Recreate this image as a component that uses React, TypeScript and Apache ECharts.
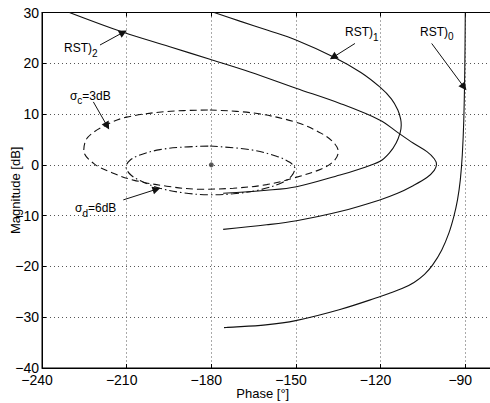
import React, { useEffect, useRef } from "react";
import * as echarts from "echarts";

// ---- axis ticks ----
const phaseTicks = [-240, -210, -180, -150, -120, -90];
const magTicks = [-40, -30, -20, -10, 0, 10, 20, 30];

// ---- curves: [phase (deg), magnitude (dB)] ----
const rst0: number[][] = [
  [-90.0, 30], [-90.18, 18.7], [-90.53, 8.8], [-91.06, 1.95], [-91.77, -3.0],
  [-92.76, -6.9], [-94.07, -10.2], [-95.85, -13.5], [-98.33, -16.75], [-101.55, -19.7],
  [-104.45, -21.55], [-108.17, -23.15], [-112.43, -24.37], [-116.33, -25.18],
  [-120.12, -25.93], [-134.4, -28.48], [-150.1, -30.67], [-160.7, -31.5],
  [-174.2, -32.0], [-175.5, -32.05],
];
const rst1: number[][] = [
  [-179.0, 30], [-169.9, 28.3], [-160.0, 26.5], [-150.0, 24.6], [-136.5, 21.2],
  [-127.0, 18.2], [-120.2, 15.3], [-116.2, 13.0], [-113.9, 10.8], [-112.9, 9.0],
  [-112.7, 7.8], [-113.1, 6.3], [-114.5, 4.3], [-116.8, 2.4], [-120.2, 0.7],
  [-127.4, -0.8], [-134.4, -2.0], [-149.8, -4.3], [-160.4, -5.0], [-175.8, -5.6],
];
const rst2: number[][] = [
  [-230.3, 30], [-211.2, 26.1], [-195.0, 23.3], [-180.5, 20.8], [-166.3, 18.3],
  [-150.0, 15.1], [-134.4, 12.1], [-120.2, 8.8], [-114.0, 6.4], [-108.5, 4.3],
  [-103.6, 2.6], [-101.0, 1.2], [-100.2, 0.1], [-101.0, -1.1], [-103.6, -2.5],
  [-108.5, -4.1], [-114.0, -5.6], [-120.3, -6.9], [-134.4, -9.2], [-149.8, -11.0],
  [-160.4, -11.8], [-175.8, -12.7],
];
const sigmaC: number[][] = [
  [-180.5, 10.8], [-165.0, 10.2], [-150.0, 8.4], [-141.0, 6.2], [-136.5, 4.3],
  [-135.0, 2.6], [-136.5, 0.8], [-141.0, -0.8], [-150.9, -2.6], [-160.4, -3.9],
  [-172.2, -4.6], [-184.0, -4.8], [-195.8, -4.2], [-207.6, -3.0], [-215.0, -1.6],
  [-221.5, 0.2], [-225.2, 2.8], [-223.8, 5.4], [-217.1, 7.9], [-210.0, 9.4],
  [-195.8, 10.5], [-180.5, 10.8],
];
const sigmaD: number[][] = [
  [-180.5, 3.7], [-166.3, 3.0], [-156.9, 1.7], [-152.2, 0.5], [-150.4, -0.7],
  [-151.6, -2.2], [-155.0, -3.5], [-162.7, -4.9], [-172.2, -5.7], [-180.5, -5.9],
  [-190.0, -5.5], [-198.2, -4.6], [-204.5, -3.3], [-208.5, -2.0], [-210.2, -0.4],
  [-208.8, 0.9], [-205.0, 2.0], [-198.2, 3.0], [-190.0, 3.5], [-180.5, 3.7],
];
const criticalPoint: number[][] = [[-180, 0]];

// ---- annotations (data coordinates) ----
const labelTexts = [
  [{ t: "RST)" }, { t: "2", sub: true }],
  [{ t: "RST)" }, { t: "1", sub: true }],
  [{ t: "RST)" }, { t: "0", sub: true }],
  [{ t: "σ" }, { t: "c", sub: true }, { t: "=3dB" }],
  [{ t: "σ" }, { t: "d", sub: true }, { t: "=6dB" }],
];
const labelAnchors: number[][] = [
  [-232.2, 23.0], [-132.6, 26.1], [-106.05, 26.2], [-230.1, 13.6], [-228.3, -8.5],
];
const arrowFrom: number[][] = [
  [-219.45, 23.6], [-129.1, 23.9], [-101.9, 23.9], [-221.8, 12.4], [-211.2, -6.9],
];
const arrowTo: number[][] = [
  [-211.2, 26.1], [-136.8, 21.2], [-90.45, 15.3], [-216.9, 7.65], [-199.4, -4.8],
];

const FONT = '"Liberation Sans", Arial, Helvetica, sans-serif';

const fmt = (v: number) => (v < 0 ? "\u2212" + Math.abs(v) : String(v));

export default function App() {
  const ref = useRef<HTMLDivElement>(null);
  useEffect(() => {
    if (!ref.current) return;
    const chart = echarts.init(ref.current, undefined, { renderer: "svg" });
    const black = "#111";
    const curve = (data: number[][], type: any, name: string) => ({
      name,
      type: "line",
      data,
      showSymbol: false,
      smooth: 0.35,
      clip: true,
      lineStyle: { color: black, width: 1.1, type },
      z: 3,
    });
    chart.setOption({
      animation: false,
      grid: {
        left: 42,
        top: 12.5,
        width: 451.5,
        height: 355.5,
        containLabel: false,
        outerBoundsMode: "none",
        show: true,
        borderColor: "#000",
        borderWidth: 1,
      },
      xAxis: [
        {
          type: "value",
          min: -240,
          max: -80,
          interval: 30,
          position: "bottom",
          axisLine: { show: true, onZero: false, lineStyle: { color: "#000", width: 1 } },
          axisTick: { show: true, inside: true, length: 4, lineStyle: { color: "#000" } },
          axisLabel: {
            show: true,
            color: "#000",
            fontSize: 14,
            fontFamily: FONT,
            margin: 5,
            padding: [0, 10, 0, 0],
            showMaxLabel: false,
            formatter: (v: number) => (phaseTicks.includes(v) ? fmt(v) : ""),
          },
          splitLine: { show: true, lineStyle: { color: "#555", type: [1, 3], width: 1 } },
          name: "Phase [°]",
          nameLocation: "middle",
          nameGap: 19,
          nameMoveOverlap: false,
          nameTextStyle: {
            color: "#000",
            fontSize: 13,
            fontFamily: FONT,
            verticalAlign: "top",
            padding: [0, 10, 0, 0],
          },
        },
        {
          type: "value",
          min: -240,
          max: -80,
          interval: 30,
          position: "top",
          axisLine: { show: true, onZero: false, lineStyle: { color: "#000", width: 1 } },
          axisTick: { show: true, inside: true, length: 4, lineStyle: { color: "#000" } },
          axisLabel: { show: false },
          splitLine: { show: false },
        },
      ],
      yAxis: {
        type: "value",
        min: -40,
        max: 30,
        interval: 10,
        axisLine: { show: true, onZero: false, lineStyle: { color: "#000", width: 1 } },
        axisTick: { show: true, inside: true, length: 4, lineStyle: { color: "#000" } },
        axisLabel: {
          color: "#000",
          fontSize: 14,
          fontFamily: FONT,
          margin: 3,
          formatter: (v: number) => (magTicks.includes(v) ? fmt(v) : ""),
        },
        splitLine: { show: true, lineStyle: { color: "#555", type: [1, 3], width: 1 } },
        name: "Magnitude [dB]",
        nameLocation: "middle",
        nameGap: 20,
        nameMoveOverlap: false,
        nameTextStyle: { color: "#000", fontSize: 13, fontFamily: FONT },
      },
      series: [
        curve(rst0, "solid", "RST0"),
        curve(rst1, "solid", "RST1"),
        curve(rst2, "solid", "RST2"),
        curve(sigmaC, [7, 4], "sigmaC"),
        curve(sigmaD, [8, 3, 1.5, 3], "sigmaD"),
        {
          name: "critical",
          type: "scatter",
          data: criticalPoint,
          symbol: "circle",
          symbolSize: 5,
          itemStyle: { color: "#333" },
          z: 4,
        },
        {
          name: "arrows",
          type: "lines",
          coordinateSystem: "cartesian2d",
          xAxisIndex: 0,
          yAxisIndex: 0,
          symbol: ["none", "triangle"],
          symbolSize: [5, 8],
          lineStyle: { color: black, width: 1, curveness: 0, opacity: 1 },
          itemStyle: { color: black },
          data: arrowFrom.map((f, i) => ({ coords: [f, arrowTo[i]] })),
          z: 5,
        },
      ],
    });

    // annotation texts
    const canvas = document.createElement("canvas");
    const ctx = canvas.getContext("2d")!;
    const graphics: any[] = [];
    labelTexts.forEach((parts, i) => {
      const p = chart.convertToPixel({ seriesIndex: 0 }, labelAnchors[i]) as number[];
      let x = p[0];
      parts.forEach((part: any) => {
        const size = part.sub ? 10 : 12;
        ctx.font = `${size}px ${FONT}`;
        graphics.push({
          type: "text",
          x,
          y: p[1] + (part.sub ? 5 : 0),
          silent: true,
          z: 10,
          style: {
            text: part.t,
            fontSize: size,
            fontFamily: FONT,
            fill: "#000",
            align: "left",
            verticalAlign: "middle",
          },
        });
        x += ctx.measureText(part.t).width;
      });
    });
    chart.setOption({ graphic: graphics });

    return () => chart.dispose();
  }, []);
  return (
    <div
      ref={ref}
      style={{ position: "absolute", left: 0, top: 0, width: 490, height: 403, background: "#fff" }}
    />
  );
}
